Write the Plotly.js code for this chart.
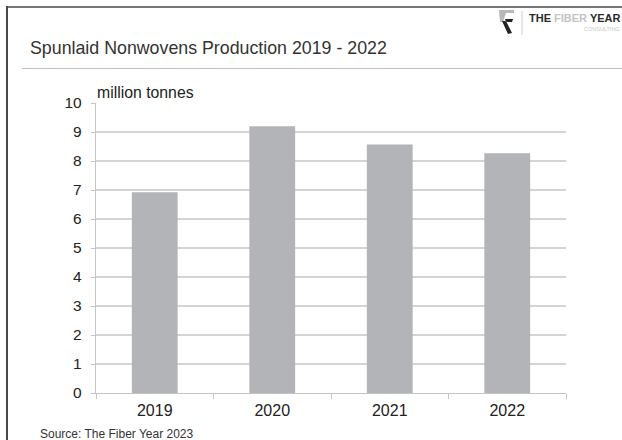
<!DOCTYPE html>
<html>
<head>
<meta charset="utf-8">
<script src="https://cdn.plot.ly/plotly-3.0.1.min.js"></script>
<style>
html,body{margin:0;padding:0;background:#fff;}
#chart{width:622px;height:440px;}
</style>
</head>
<body>
<div id="chart"></div>
<script>
// ---- data ----
const years = ["2019", "2020", "2021", "2022"];
const production = [6.92, 9.2, 8.57, 8.27];
const yTicks = [0, 1, 2, 3, 4, 5, 6, 7, 8, 9, 10];
const titleText = "Spunlaid Nonwovens Production 2019 - 2022";
const unitText = "million tonnes";
const sourceText = "Source: The Fiber Year 2023";

// ---- layout helpers (pixel -> paper) ----
const W = 622, H = 440;
const M = {l: 96, r: 56, t: 103, b: 47};
const PW = W - M.l - M.r, PH = H - M.t - M.b;
const X = px => (px - M.l) / PW;
const Y = py => (H - M.b - py) / PH;

const FONT = "Liberation Sans, Arial, sans-serif";

const trace = {
  type: "bar",
  x: years,
  y: production,
  marker: {color: "#b3b4b8", line: {width: 0}},
  hoverinfo: "x+y"
};

const layout = {
  width: W, height: H,
  margin: M,
  paper_bgcolor: "#ffffff",
  plot_bgcolor: "#ffffff",
  showlegend: false,
  bargap: 0.61,
  font: {family: FONT, color: "#222", size: 15},
  xaxis: {
    type: "category",
    showgrid: false,
    showline: true,
    linecolor: "#c4c4c4",
    linewidth: 1.2,
    ticks: "outside",
    tickson: "boundaries",
    ticklen: 5,
    tickcolor: "#c4c4c4",
    tickfont: {family: FONT, size: 16, color: "#222"},
    ticklabelstandoff: 3,
    zeroline: false,
    fixedrange: true
  },
  yaxis: {
    range: [0, 10],
    tickvals: yTicks,
    ticktext: yTicks.map(String),
    showgrid: true,
    gridcolor: "#d4d4d4",
    gridwidth: 1.2,
    showline: true,
    linecolor: "#c4c4c4",
    linewidth: 1.2,
    ticks: "outside",
    ticklen: 4,
    tickcolor: "#c4c4c4",
    tickfont: {family: FONT, size: 15.5, color: "#222"},
    ticklabelstandoff: 6,
    zeroline: false,
    fixedrange: true
  },
  shapes: [
    // frame: left and top dark border
    {type: "line", xref: "paper", yref: "paper", x0: X(7), x1: X(7), y0: Y(6), y1: Y(445),
     line: {color: "#4a4a4a", width: 2}},
    {type: "line", xref: "paper", yref: "paper", x0: X(6), x1: X(630), y0: Y(7), y1: Y(7),
     line: {color: "#4a4a4a", width: 1.5}},
    // separator under title
    {type: "line", xref: "paper", yref: "paper", x0: X(22), x1: X(630), y0: Y(68.5), y1: Y(68.5),
     line: {color: "#c2c2c2", width: 1.2}},
    // logo separator
    {type: "line", xref: "paper", yref: "paper", x0: X(522), x1: X(522), y0: Y(11), y1: Y(35),
     line: {color: "#d0d0d0", width: 1}},
    // logo icon (light part)
    {type: "path", xref: "paper", yref: "paper",
     path: `M ${X(499)} ${Y(10)} L ${X(514)} ${Y(10)} L ${X(514)} ${Y(13)} L ${X(506)} ${Y(13)} L ${X(503)} ${Y(22)} L ${X(500)} ${Y(22)} Z`,
     fillcolor: "#b8b8b8", line: {width: 0}},
    // logo icon (dark part)
    {type: "path", xref: "paper", yref: "paper",
     path: `M ${X(502)} ${Y(21)} L ${X(506)} ${Y(21)} L ${X(512)} ${Y(33)} L ${X(508)} ${Y(34)} Z M ${X(505)} ${Y(19)} L ${X(513)} ${Y(19)} L ${X(512)} ${Y(22)} L ${X(506)} ${Y(22)} Z`,
     fillcolor: "#222222", line: {width: 0}}
  ],
  annotations: [
    {text: titleText, xref: "paper", yref: "paper", x: X(28), y: Y(48),
     xanchor: "left", yanchor: "middle", showarrow: false,
     font: {family: FONT, size: 17.8, color: "#333"}},
    {text: unitText, xref: "paper", yref: "paper", x: X(95), y: Y(92),
     xanchor: "left", yanchor: "middle", showarrow: false,
     font: {family: FONT, size: 15.8, color: "#222"}},
    {text: sourceText, xref: "paper", yref: "paper", x: X(38), y: Y(434),
     xanchor: "left", yanchor: "middle", showarrow: false,
     font: {family: FONT, size: 12, color: "#333"}},
    {text: "<b>THE <span style='color:#c4c4c4'>FIBER</span> YEAR</b>", xref: "paper", yref: "paper",
     x: X(527), y: Y(18), xanchor: "left", yanchor: "middle", showarrow: false,
     font: {family: FONT, size: 11, color: "#2a2a2a"}},
    {text: "CONSULTING", xref: "paper", yref: "paper",
     x: X(582), y: Y(29), xanchor: "left", yanchor: "middle", showarrow: false,
     font: {family: FONT, size: 5.5, color: "#c8c8c8"}}
  ]
};

Plotly.newPlot("chart", [trace], layout, {displayModeBar: false, staticPlot: true});
</script>
</body>
</html>
